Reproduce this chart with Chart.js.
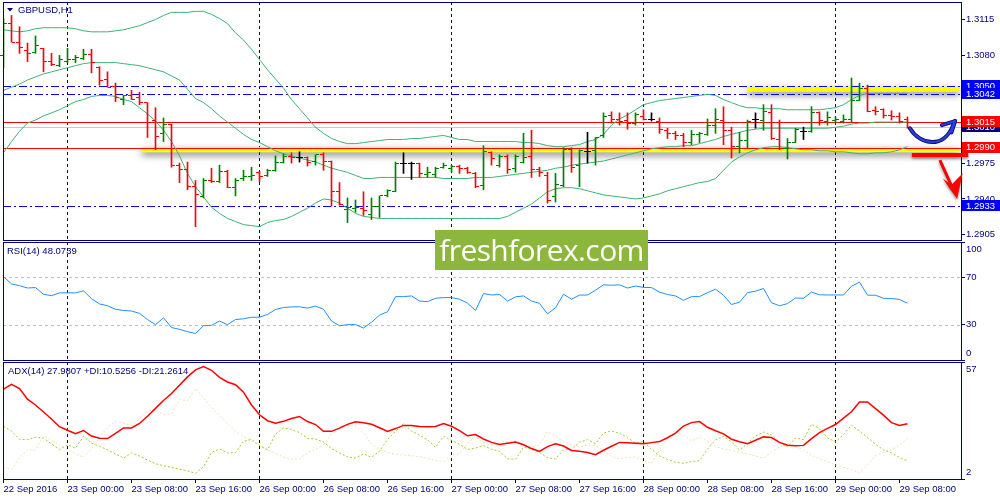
<!DOCTYPE html>
<html>
<head>
<meta charset="utf-8">
<script src="https://cdn.jsdelivr.net/npm/chart.js@4.4.1/dist/chart.umd.min.js"></script>
<style>
  html, body { margin: 0; padding: 0; background: #fff; }
  #wrap { position: relative; width: 1000px; height: 500px; overflow: hidden; background: #fff; }
  #wrap canvas { position: absolute; left: 0; }
  #mark { position: absolute; left: 435px; top: 230px; width: 213px; height: 40px; background: #8db63c;
          color: #fff; font: 30px 'Open Sans', sans-serif; line-height: 40px; text-align: center; letter-spacing: -0.6px; }
</style>
</head>
<body>
<div id="wrap">
  <canvas id="main" width="1000" height="242" style="top:0"></canvas>
  <canvas id="rsi" width="1000" height="120" style="top:242px"></canvas>
  <canvas id="adx" width="1000" height="138" style="top:362px"></canvas>
  <div id="mark">freshforex.com</div>
</div>
<script>
// GBPUSD H1, 22 Sep 16:00 .. 29 Sep 09:00
const timeLabels = ['22 Sep 2016', '23 Sep 00:00', '23 Sep 08:00', '23 Sep 16:00', '26 Sep 00:00', '26 Sep 08:00',
  '26 Sep 16:00', '27 Sep 00:00', '27 Sep 08:00', '27 Sep 16:00', '28 Sep 00:00', '28 Sep 08:00',
  '28 Sep 16:00', '29 Sep 00:00', '29 Sep 08:00'];
const dayStarts = [8, 32, 56, 80, 104];

const opens = [1.3080, 1.3111, 1.3093, 1.3085, 1.3083, 1.3087, 1.3074, 1.3070, 1.3074, 1.3076,
  1.3077, 1.3081, 1.3068, 1.3057, 1.3050, 1.3037, 1.3041, 1.3039, 1.3034, 1.3017,
  1.3004, 1.3013, 1.2973, 1.2969, 1.2952, 1.2942, 1.2958, 1.2957, 1.2967, 1.2951,
  1.2960, 1.2962, 1.2966, 1.2963, 1.2968, 1.2976, 1.2981, 1.2980, 1.2980, 1.2977,
  1.2983, 1.2977, 1.2947, 1.2930, 1.2931, 1.2931, 1.2925, 1.2933, 1.2943, 1.2947,
  1.2975, 1.2975, 1.2975, 1.2964, 1.2964, 1.2971, 1.2970, 1.2972, 1.2970, 1.2965,
  1.2953, 1.2985, 1.2973, 1.2981, 1.2970, 1.2976, 1.2981, 1.2969, 1.2963, 1.2942,
  1.2953, 1.2988, 1.2973, 1.2986, 1.2987, 1.3002, 1.3021, 1.3018, 1.3017, 1.3014,
  1.3020, 1.3018, 1.3016, 1.3007, 1.3004, 1.3002, 1.2995, 1.3003, 1.3003, 1.3012,
  1.3017, 1.3007, 1.2991, 1.2997, 1.3018, 1.3017, 1.3024, 1.2998, 1.2989, 1.2995,
  1.3006, 1.3006, 1.3024, 1.3016, 1.3017, 1.3016, 1.3018, 1.3036, 1.3048, 1.3026,
  1.3027, 1.3021, 1.3020, 1.3018];
const highs = [1.3116, 1.3119, 1.3108, 1.3092, 1.3099, 1.3087, 1.3082, 1.3080, 1.3087, 1.3080,
  1.3086, 1.3086, 1.3069, 1.3064, 1.3053, 1.3041, 1.3046, 1.3044, 1.3034, 1.3029,
  1.3019, 1.3013, 1.2975, 1.2976, 1.2958, 1.2960, 1.2970, 1.2973, 1.2968, 1.2960,
  1.2968, 1.2971, 1.2967, 1.2969, 1.2982, 1.2984, 1.2985, 1.2986, 1.2981, 1.2983,
  1.2985, 1.2977, 1.2956, 1.2941, 1.2939, 1.2947, 1.2941, 1.2943, 1.2949, 1.2976,
  1.2985, 1.2976, 1.2975, 1.2971, 1.2971, 1.2975, 1.2973, 1.2973, 1.2971, 1.2966,
  1.2992, 1.2986, 1.2983, 1.2983, 1.2983, 1.3004, 1.3007, 1.2971, 1.2966, 1.2965,
  1.2990, 1.2990, 1.2988, 1.3005, 1.3000, 1.3024, 1.3025, 1.3024, 1.3024, 1.3024,
  1.3027, 1.3024, 1.3019, 1.3009, 1.3006, 1.3004, 1.3007, 1.3005, 1.3018, 1.3028,
  1.3030, 1.3010, 1.3005, 1.3017, 1.3024, 1.3032, 1.3032, 1.3017, 1.2999, 1.3009,
  1.3010, 1.3030, 1.3025, 1.3025, 1.3020, 1.3022, 1.3058, 1.3053, 1.3051, 1.3030,
  1.3028, 1.3026, 1.3024, 1.3020];
const lows = [1.3068, 1.3093, 1.3082, 1.3074, 1.3082, 1.3064, 1.3070, 1.3069, 1.3073, 1.3073,
  1.3076, 1.3063, 1.3051, 1.3049, 1.3035, 1.3032, 1.3037, 1.3032, 1.3000, 1.2988,
  1.2996, 1.2971, 1.2956, 1.2949, 1.2913, 1.2941, 1.2956, 1.2956, 1.2951, 1.2943,
  1.2958, 1.2958, 1.2957, 1.2962, 1.2967, 1.2975, 1.2975, 1.2976, 1.2972, 1.2973,
  1.2968, 1.2933, 1.2934, 1.2917, 1.2927, 1.2924, 1.2920, 1.2922, 1.2942, 1.2947,
  1.2965, 1.2959, 1.2961, 1.2961, 1.2961, 1.2970, 1.2966, 1.2965, 1.2965, 1.2951,
  1.2949, 1.2973, 1.2971, 1.2965, 1.2966, 1.2975, 1.2961, 1.2962, 1.2936, 1.2937,
  1.2952, 1.2966, 1.2952, 1.2975, 1.2973, 1.3000, 1.3014, 1.3012, 1.3008, 1.3012,
  1.3017, 1.3016, 1.3004, 1.2999, 1.2998, 1.2991, 1.2993, 1.2995, 1.3002, 1.3004,
  1.2993, 1.2980, 1.2985, 1.2990, 1.3009, 1.3007, 1.2998, 1.2988, 1.2979, 1.2995,
  1.2998, 1.3005, 1.3012, 1.3012, 1.3014, 1.3014, 1.3015, 1.3036, 1.3025, 1.3022,
  1.3019, 1.3017, 1.3014, 1.3009];
const closes = [1.3111, 1.3093, 1.3088, 1.3082, 1.3090, 1.3074, 1.3071, 1.3076, 1.3076, 1.3078,
  1.3081, 1.3073, 1.3056, 1.3049, 1.3039, 1.3041, 1.3037, 1.3034, 1.3015, 1.3001,
  1.3013, 1.2973, 1.2969, 1.2952, 1.2944, 1.2958, 1.2957, 1.2967, 1.2951, 1.2958,
  1.2962, 1.2963, 1.2962, 1.2968, 1.2976, 1.2981, 1.2980, 1.2980, 1.2976, 1.2983,
  1.2977, 1.2947, 1.2935, 1.2932, 1.2932, 1.2929, 1.2933, 1.2943, 1.2948, 1.2975,
  1.2975, 1.2975, 1.2965, 1.2966, 1.2970, 1.2973, 1.2972, 1.2970, 1.2966, 1.2952,
  1.2986, 1.2979, 1.2981, 1.2969, 1.2981, 1.2980, 1.2969, 1.2966, 1.2939, 1.2954,
  1.2988, 1.2971, 1.2987, 1.2986, 1.3000, 1.3020, 1.3018, 1.3016, 1.3014, 1.3022,
  1.3018, 1.3018, 1.3008, 1.3004, 1.3002, 1.2995, 1.3003, 1.3004, 1.3012, 1.3018,
  1.3007, 1.2991, 1.2997, 1.3016, 1.3018, 1.3025, 1.2999, 1.2989, 1.2995, 1.3008,
  1.3006, 1.3024, 1.3017, 1.3019, 1.3018, 1.3018, 1.3036, 1.3048, 1.3025, 1.3025,
  1.3021, 1.3020, 1.3016, 1.3010];

// Bollinger Bands (20)
const bbUpper = [1.3105, 1.3104, 1.3103, 1.3104, 1.3106, 1.3107, 1.3107, 1.3107, 1.3107, 1.3106,
  1.3104, 1.3103, 1.3103, 1.3103, 1.3104, 1.3105, 1.3107, 1.3109, 1.3112, 1.3115,
  1.3119, 1.3122, 1.3122, 1.3122, 1.3123, 1.3123, 1.3120, 1.3116, 1.3111, 1.3102,
  1.3095, 1.3086, 1.3076, 1.3066, 1.3057, 1.3048, 1.3037, 1.3028, 1.3019, 1.3010,
  1.3004, 1.2999, 1.2996, 1.2994, 1.2994, 1.2995, 1.2996, 1.2997, 1.2998, 1.2998,
  1.2998, 1.2999, 1.2999, 1.3000, 1.3001, 1.3002, 1.3000, 1.2998, 1.2998, 1.2996,
  1.2996, 1.2996, 1.2996, 1.2996, 1.2996, 1.2995, 1.2995, 1.2994, 1.2992, 1.2991,
  1.2991, 1.2992, 1.2993, 1.2996, 1.2998, 1.3003, 1.3012, 1.3018, 1.3022, 1.3027,
  1.3032, 1.3034, 1.3036, 1.3037, 1.3038, 1.3039, 1.3040, 1.3041, 1.3042, 1.3041,
  1.3037, 1.3034, 1.3031, 1.3029, 1.3029, 1.3028, 1.3028, 1.3028, 1.3027, 1.3027,
  1.3027, 1.3027, 1.3027, 1.3028, 1.3029, 1.3032, 1.3037, 1.3041, 1.3043, 1.3043,
  1.3043, 1.3043, 1.3043, 1.3043];
const bbMiddle = [1.3046, 1.3049, 1.3052, 1.3056, 1.3059, 1.3062, 1.3064, 1.3066, 1.3068, 1.3070,
  1.3072, 1.3073, 1.3073, 1.3073, 1.3073, 1.3072, 1.3071, 1.3070, 1.3068, 1.3066,
  1.3064, 1.3060, 1.3056, 1.3047, 1.3038, 1.3034, 1.3028, 1.3021, 1.3015, 1.3009,
  1.3003, 1.2998, 1.2995, 1.2991, 1.2987, 1.2984, 1.2982, 1.2980, 1.2978, 1.2976,
  1.2973, 1.2970, 1.2968, 1.2966, 1.2963, 1.2960, 1.2960, 1.2961, 1.2961, 1.2961,
  1.2961, 1.2961, 1.2961, 1.2961, 1.2961, 1.2960, 1.2960, 1.2960, 1.2960, 1.2961,
  1.2961, 1.2961, 1.2962, 1.2963, 1.2964, 1.2965, 1.2966, 1.2967, 1.2968, 1.2970,
  1.2971, 1.2973, 1.2974, 1.2975, 1.2976, 1.2977, 1.2979, 1.2981, 1.2983, 1.2985,
  1.2987, 1.2989, 1.2990, 1.2991, 1.2991, 1.2992, 1.2992, 1.2994, 1.2996, 1.2998,
  1.3001, 1.3003, 1.3005, 1.3007, 1.3008, 1.3009, 1.3009, 1.3009, 1.3009, 1.3009,
  1.3009, 1.3009, 1.3009, 1.3009, 1.3010, 1.3011, 1.3013, 1.3014, 1.3014, 1.3015,
  1.3015, 1.3015, 1.3015, 1.3015];
const bbLower = [1.2985, 1.2996, 1.3006, 1.3014, 1.3017, 1.3021, 1.3024, 1.3027, 1.3031, 1.3035,
  1.3037, 1.3040, 1.3041, 1.3041, 1.3040, 1.3037, 1.3035, 1.3029, 1.3023, 1.3016,
  1.3007, 1.2996, 1.2982, 1.2965, 1.2952, 1.2942, 1.2932, 1.2926, 1.2921, 1.2918,
  1.2915, 1.2914, 1.2913, 1.2917, 1.2919, 1.2920, 1.2923, 1.2927, 1.2931, 1.2936,
  1.2940, 1.2939, 1.2936, 1.2931, 1.2926, 1.2923, 1.2922, 1.2921, 1.2921, 1.2921,
  1.2921, 1.2921, 1.2921, 1.2921, 1.2921, 1.2921, 1.2921, 1.2921, 1.2921, 1.2921,
  1.2921, 1.2921, 1.2921, 1.2923, 1.2927, 1.2931, 1.2935, 1.2941, 1.2947, 1.2950,
  1.2951, 1.2951, 1.2950, 1.2948, 1.2946, 1.2944, 1.2943, 1.2942, 1.2941, 1.2940,
  1.2941, 1.2943, 1.2945, 1.2948, 1.2950, 1.2952, 1.2954, 1.2956, 1.2957, 1.2960,
  1.2968, 1.2976, 1.2981, 1.2985, 1.2988, 1.2990, 1.2991, 1.2991, 1.2990, 1.2989,
  1.2988, 1.2988, 1.2987, 1.2987, 1.2986, 1.2986, 1.2985, 1.2984, 1.2984, 1.2985,
  1.2985, 1.2986, 1.2988, 1.2991];

const rsiValues = [70.6, 64.5, 63, 61, 61.4, 55.7, 54.5, 56.9, 56.9, 56.9,
  58.6, 52, 47.5, 46, 43, 42, 41.5, 39.5, 34.3, 30,
  35.7, 27.5, 26, 24, 22.5, 29, 29.4, 33, 30, 34.3,
  34.9, 36.2, 36.3, 38.6, 42.8, 44.5, 45, 45.1, 44, 45.7,
  43, 33, 29, 30, 30, 27.1, 32, 38, 40.9, 53.7,
  53.7, 54.3, 50, 49.4, 52.3, 52.9, 52.9, 51.5, 48.2, 42,
  56.3, 55.1, 55.5, 50, 53.5, 54.3, 50, 48, 39.1, 44.3,
  55.7, 51.5, 55, 55.1, 59.1, 63.7, 63.4, 63.7, 61, 62.7,
  61.5, 61.4, 57.5, 55.5, 54.3, 50.6, 53.7, 53.7, 57.1, 60,
  54.9, 47, 49, 57.1, 58.3, 60.6, 48.5, 46, 47.8, 52.5,
  52.3, 57.5, 55.3, 55.1, 55.1, 55.1, 62.5, 66, 54.9, 54.9,
  52.3, 52.1, 51.3, 48.1];

const adxValues = [44.2, 46.5, 44.5, 39.5, 36.8, 33.5, 30.2, 26.6, 24.9, 23.3,
  24.8, 22.2, 21.2, 21, 23.5, 26, 26, 28.1, 31.5, 35.2,
  38.9, 42.2, 46.1, 50, 53.3, 54.9, 53.1, 49.8, 47.6, 46.3,
  42.8, 36.8, 32.2, 29.4, 28.2, 29.1, 30.4, 31.4, 29, 27.6,
  24.4, 24.4, 25.9, 27.7, 28.9, 28.4, 27.7, 26.1, 24.4, 25.7,
  27.2, 27.2, 26.7, 26.6, 26.7, 28.1, 26.8, 24.7, 22.3, 22.9,
  20.8, 19.2, 18.2, 18.8, 19.4, 18.1, 16.3, 15, 17.2, 18.6,
  17.5, 15.4, 15, 14.5, 13.4, 15.5, 17.4, 19.2, 19, 18.8,
  18.6, 19.1, 19.6, 21.4, 23.6, 26.9, 28.5, 29, 26.3, 24.7,
  23.2, 20.7, 19.5, 18.6, 20.2, 21.8, 21.5, 19.2, 17.9, 17.6,
  17.8, 21, 23.8, 25.8, 27.6, 30.6, 33.6, 38.2, 38.2, 35.1,
  32, 28.5, 27.2, 28];
const plusDI = [26.8, 24.6, 20.7, 20.5, 21.6, 21.2, 18.5, 15.8, 18.1, 16.5,
  22.1, 18.8, 17.4, 15.7, 13.8, 11.8, 14.3, 12.8, 10.9, 9.2,
  8.2, 7.4, 6.7, 5.8, 4.7, 7.8, 14.5, 16.1, 14.2, 14.4,
  19.7, 20.6, 17.7, 15.7, 23.1, 26, 25.3, 23.8, 21.1, 20.8,
  19.4, 16.3, 14.3, 12.4, 11.8, 13.8, 12.2, 15.1, 20.5, 24.3,
  28.1, 24.6, 22.5, 20.5, 16.8, 22.1, 20.2, 18.3, 15.9, 16.5,
  17.7, 16, 15, 11.5, 11.2, 17, 15.9, 14.5, 12, 11.4,
  15.8, 15.8, 19.3, 20.5, 18.6, 23.6, 24.6, 23.5, 21.5, 18.9,
  19.7, 16, 12.8, 11.2, 9.8, 9.4, 10.2, 10.6, 16, 20.4,
  22.1, 19.5, 15.6, 18.7, 22.2, 24.1, 22.7, 19.4, 17.1, 21.3,
  20.5, 27.8, 25.7, 21.3, 19.5, 22.9, 27.3, 24.5, 21.5, 18.3,
  15.7, 14.3, 12.1, 10.5];
const minusDI = [7.5, 6.5, 12.2, 15.8, 15.7, 22.4, 20.2, 18, 15.8, 13.8,
  12.2, 16.2, 21.5, 26.5, 29.2, 28.3, 27.2, 30.2, 34, 34.5,
  32.2, 32.7, 39.3, 38.7, 44.5, 40.2, 35.7, 31.9, 28.3, 24.5,
  22, 19.8, 17.9, 15.8, 14.1, 12.3, 11.3, 11.5, 14.4, 15.9,
  18.2, 23.2, 26.5, 27.2, 27, 23.7, 18.3, 15.9, 14.5, 13.7,
  13.2, 12.9, 12.5, 11.6, 10.8, 10.2, 13.5, 13.8, 19, 21.9,
  19, 18, 19.2, 19.7, 20, 18.3, 17, 18, 24.2, 22.2,
  19.5, 18, 17, 18, 17.7, 15.5, 12.5, 11.6, 12, 12.3,
  10.6, 9.2, 15.7, 21.4, 23.9, 22.7, 19.8, 21.7, 19.8, 17.3,
  16.1, 15.5, 14.6, 13.8, 12.8, 11.8, 14.7, 17, 18.6, 17.5,
  15.5, 13.3, 11.4, 10.2, 8.5, 7.5, 6.2, 5, 8.6, 13,
  14.6, 15.8, 18, 20.8];

const priceTicks = [1.3115, 1.3080, 1.3045, 1.3010, 1.2975, 1.2940, 1.2905];
const rsiTicks = [100, 70, 30, 0];
const rsiLevels = [70, 30];
const adxTicks = [57, 2];

const blueLevels = [1.3050, 1.3042, 1.2933];
const redLevels = [1.3015, 1.2990];
const bidPrice = 1.3010;
const zoneLevels = [1.3047, 1.2988];
const zoneStarts = [93, 17.3];

const navy = '#000080';
const txtFont = "9.5px 'Liberation Sans', Arial, sans-serif";
Chart.defaults.font.family = "'Liberation Sans', Arial, sans-serif";
Chart.defaults.font.size = 9.5;
Chart.defaults.color = navy;
Chart.defaults.animation = false;
Chart.defaults.events = [];
Chart.defaults.plugins.legend.display = false;
Chart.defaults.plugins.tooltip.enabled = false;

const barIndex = opens.map((_, i) => i);
const barColor = i => closes[i] > opens[i] ? '#008000' : (closes[i] < opens[i] ? '#ff0000' : '#000000');

function xAxis(showLabels) {
  return {
    type: 'linear', min: -0.0625, max: 119.6875, offset: false, bounds: 'data',
    afterBuildTicks: s => { s.ticks = timeLabels.map((_, k) => ({ value: k * 8 })); },
    afterFit: s => { s.height = showLabels ? 21 : 0; s.paddingLeft = 0; s.paddingRight = 0; },
    ticks: { display: showLabels, autoSkip: false, maxRotation: 0, align: 'start', padding: 1,
      callback: (v, k) => timeLabels[k] },
    grid: { offset: false, drawTicks: showLabels, tickLength: 4, tickColor: navy, lineWidth: 1,
      color: c => (c.tick && dayStarts.includes(c.tick.value)) ? navy : 'rgba(0,0,0,0)' },
    border: { display: false, dash: [3, 3] }
  };
}
function yAxis(min, max, ticks, showLabels) {
  return {
    type: 'linear', position: 'right', min: min, max: max, bounds: 'data',
    afterBuildTicks: s => { s.ticks = ticks.map(v => ({ value: v })); },
    afterFit: s => { s.width = 39; s.paddingTop = 0; s.paddingBottom = 0; },
    ticks: { display: showLabels, padding: 1, callback: v => v.toFixed(4) },
    grid: { drawOnChartArea: false, tickLength: 4, tickColor: navy },
    border: { display: false }
  };
}
function frame(chart) {
  const { ctx, chartArea: a } = chart;
  ctx.save();
  ctx.strokeStyle = navy; ctx.lineWidth = 1;
  ctx.strokeRect(a.left + 0.5, a.top + 0.5, a.right - a.left, a.bottom - a.top);
  ctx.restore();
}
function sideLabels(chart, values) {
  const { ctx, chartArea: a, scales: { y } } = chart;
  ctx.save();
  ctx.font = txtFont; ctx.fillStyle = navy; ctx.textBaseline = 'middle';
  values.forEach(v => {
    const py = Math.min(Math.max(y.getPixelForValue(v), a.top + 7), a.bottom - 7);
    ctx.fillText(String(v), a.right + 5, py);
  });
  ctx.restore();
}
function caption(chart, text, x, yy) {
  const ctx = chart.ctx;
  ctx.save();
  ctx.font = txtFont; ctx.fillStyle = navy; ctx.textBaseline = 'middle';
  ctx.fillText(text, x, yy);
  ctx.restore();
}

const mainDecor = {
  id: 'mainDecor',
  beforeDatasetsDraw(chart) {
    const { ctx, chartArea: a, scales: { x, y } } = chart;
    ctx.save();
    ctx.beginPath(); ctx.rect(a.left, a.top, a.right - a.left, a.bottom - a.top); ctx.clip();
    zoneLevels.forEach((p, k) => {
      ctx.save();
      ctx.shadowColor = 'rgba(0,0,0,0.55)'; ctx.shadowBlur = 7; ctx.shadowOffsetY = 3;
      ctx.strokeStyle = '#ffff00'; ctx.lineWidth = 5;
      const py = y.getPixelForValue(p);
      ctx.beginPath(); ctx.moveTo(x.getPixelForValue(zoneStarts[k]), py); ctx.lineTo(a.right - 2, py); ctx.stroke();
      ctx.restore();
    });
    const hline = (p, color, dash) => {
      const py = Math.round(y.getPixelForValue(p)) + 0.5;
      ctx.strokeStyle = color; ctx.lineWidth = 1; ctx.setLineDash(dash);
      ctx.beginPath(); ctx.moveTo(a.left, py); ctx.lineTo(a.right, py); ctx.stroke();
    };
    hline(bidPrice, '#c8c8c8', []);
    blueLevels.forEach(p => hline(p, '#0000ff', [8, 3, 2, 3]));
    redLevels.forEach(p => hline(p, '#ff0000', []));
    ctx.restore();
  },
  afterDatasetsDraw(chart) {
    const { ctx, scales: { x, y } } = chart;
    ctx.save();
    opens.forEach((o, i) => {
      const px = Math.round(x.getPixelForValue(i) - 0.5);
      ctx.fillStyle = barColor(i);
      ctx.fillRect(px - 3, Math.round(y.getPixelForValue(o) - 0.5), 3, 1);
      ctx.fillRect(px + 1, Math.round(y.getPixelForValue(closes[i]) - 0.5), 3, 1);
    });
    ctx.restore();
    frame(chart);
  },
  afterDraw(chart) {
    const { ctx, chartArea: a, scales: { x, y } } = chart;
    // price tags on the right axis
    const tags = [...blueLevels, bidPrice, ...redLevels];
    ctx.save();
    ctx.font = txtFont; ctx.textBaseline = 'middle';
    tags.forEach(p => {
      const py = y.getPixelForValue(p);
      ctx.fillStyle = redLevels.includes(p) ? '#ff0000' : (p === bidPrice ? navy : '#0000ff');
      ctx.fillRect(a.right + 1, Math.round(py) - 6, 40, 11);
      ctx.fillStyle = '#ffffff';
      ctx.fillText(p.toFixed(4), a.right + 5, py);
    });
    ctx.restore();

    // title
    ctx.save();
    ctx.fillStyle = navy;
    ctx.beginPath(); ctx.moveTo(7, 8); ctx.lineTo(13, 8); ctx.lineTo(10, 11.5); ctx.closePath(); ctx.fill();
    ctx.restore();
    caption(chart, 'GBPUSD,H1', 18, 10);

    const n = opens.length - 1;
    const P = (i, p) => [x.getPixelForValue(i), y.getPixelForValue(p)];
    // blue arrow: bounce scenario
    ctx.save();
    ctx.lineCap = 'round'; ctx.lineJoin = 'round';
    const b0 = P(n + 0.3, 1.3009), b1 = P(n + 1.6, 1.2992), b2 = P(n + 4.6, 1.2989), b3 = P(n + 5.7, 1.3012);
    const tip = P(n + 5.95, 1.3016), w1 = P(n + 4.3, 1.3012), w2 = P(n + 5.5, 1.3005);
    [['#101070', 4], ['#2a3ee0', 2]].forEach(([c, w]) => {
      ctx.strokeStyle = c; ctx.lineWidth = w;
      ctx.beginPath(); ctx.moveTo(...b0); ctx.bezierCurveTo(...b1, ...b2, ...b3); ctx.lineTo(...tip); ctx.stroke();
      ctx.beginPath(); ctx.moveTo(...w1); ctx.lineTo(...tip); ctx.lineTo(...w2); ctx.stroke();
    });
    ctx.restore();

    // red bar and arrow: break-down scenario
    ctx.save();
    ctx.shadowColor = 'rgba(0,0,0,0.4)'; ctx.shadowBlur = 3; ctx.shadowOffsetY = 2;
    ctx.strokeStyle = '#ff0000'; ctx.lineWidth = 4;
    const r0 = P(n + 0.55, 1.2983), r1 = P(n + 7.6, 1.2983);
    ctx.beginPath(); ctx.moveTo(...r0); ctx.lineTo(...r1); ctx.stroke();
    ctx.lineWidth = 3;
    const s0 = P(n + 4.05, 1.2978), s1 = P(n + 5.6, 1.2951);
    ctx.beginPath(); ctx.moveTo(...s0); ctx.lineTo(...s1); ctx.stroke();
    ctx.fillStyle = '#ff0000';
    const t0 = P(n + 6.2, 1.2940), t1 = P(n + 4.4, 1.2960), t2 = P(n + 5.5, 1.2954), t3 = P(n + 6.9, 1.2965);
    ctx.beginPath(); ctx.moveTo(...t0); ctx.lineTo(...t1); ctx.lineTo(...t2); ctx.lineTo(...t3); ctx.closePath(); ctx.fill();
    ctx.restore();
  }
};

const rsiDecor = {
  id: 'rsiDecor',
  beforeDatasetsDraw(chart) {
    const { ctx, chartArea: a, scales: { y } } = chart;
    ctx.save();
    ctx.strokeStyle = '#c0c0c0'; ctx.lineWidth = 1; ctx.setLineDash([3, 3]);
    rsiLevels.forEach(v => {
      const py = Math.round(y.getPixelForValue(v)) + 0.5;
      ctx.beginPath(); ctx.moveTo(a.left, py); ctx.lineTo(a.right, py); ctx.stroke();
    });
    ctx.restore();
  },
  afterDatasetsDraw(chart) { frame(chart); },
  afterDraw(chart) {
    sideLabels(chart, rsiTicks);
    caption(chart, 'RSI(14) 48.0739', 7, 9);
  }
};

const adxDecor = {
  id: 'adxDecor',
  afterDatasetsDraw(chart) { frame(chart); },
  afterDraw(chart) {
    sideLabels(chart, adxTicks);
    caption(chart, 'ADX(14) 27.9807 +DI:10.5256 -DI:21.2614', 8, 9);
  }
};

const lineSet = (data, color, width, dash, order) => ({
  type: 'line', data: data, borderColor: color, borderWidth: width, borderDash: dash,
  pointRadius: 0, tension: 0, fill: false, order: order
});

new Chart(document.getElementById('main'), {
  type: 'line',
  data: {
    labels: barIndex,
    datasets: [
      {
        type: 'bar', data: lows.map((l, i) => [l, highs[i]]),
        backgroundColor: opens.map((_, i) => barColor(i)),
        barThickness: 1, borderWidth: 0, grouped: false, order: 0
      },
      lineSet(bbUpper, '#3cb371', 1, [], 1),
      lineSet(bbMiddle, '#3cb371', 1, [], 1),
      lineSet(bbLower, '#3cb371', 1, [], 1)
    ]
  },
  options: {
    responsive: false, devicePixelRatio: 1,
    layout: { padding: { left: 3, right: 0, top: 2, bottom: 2 } },
    scales: { x: xAxis(false), y: yAxis(1.2900, 1.31321, priceTicks, true) }
  },
  plugins: [mainDecor]
});

new Chart(document.getElementById('rsi'), {
  type: 'line',
  data: { labels: barIndex, datasets: [lineSet(rsiValues, '#1e90ff', 1, [], 0)] },
  options: {
    responsive: false, devicePixelRatio: 1,
    layout: { padding: { left: 3, right: 0, top: 0, bottom: 2 } },
    scales: { x: xAxis(false), y: yAxis(0, 100, rsiTicks, false) }
  },
  plugins: [rsiDecor]
});

new Chart(document.getElementById('adx'), {
  type: 'line',
  data: {
    labels: barIndex,
    datasets: [
      lineSet(adxValues, '#ff0000', 1.5, [], 0),
      lineSet(plusDI, '#9acd32', 1, [2, 2], 1),
      lineSet(minusDI, '#f5deb3', 1, [2, 2], 2)
    ]
  },
  options: {
    responsive: false, devicePixelRatio: 1,
    layout: { padding: { left: 3, right: 0, top: 0, bottom: 0 } },
    scales: { x: xAxis(true), y: yAxis(2, 57, adxTicks, false) }
  },
  plugins: [adxDecor]
});
</script>
</body>
</html>
